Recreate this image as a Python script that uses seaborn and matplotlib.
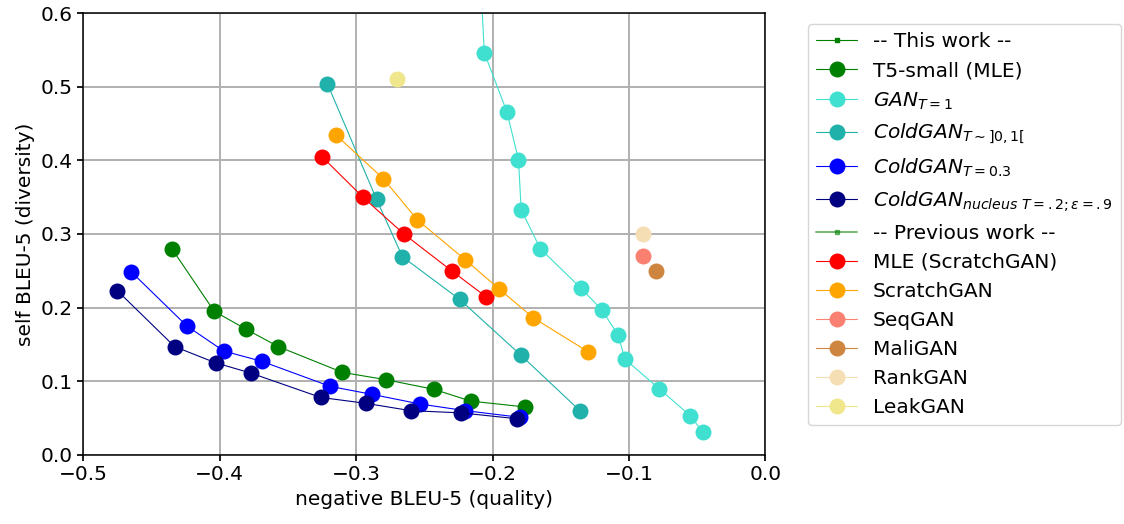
import matplotlib
matplotlib.use("Agg")
import matplotlib.pyplot as plt
import seaborn as sns

# ---- data ----
t5_x = [-0.435, -0.404, -0.381, -0.357, -0.310, -0.278, -0.243, -0.216, -0.176]
t5_y = [0.280, 0.195, 0.171, 0.147, 0.112, 0.102, 0.089, 0.073, 0.065]

gan_x = [-0.2095, -0.206, -0.1895, -0.181, -0.179, -0.165, -0.135, -0.120, -0.108, -0.103, -0.078, -0.055, -0.046]
gan_y = [0.670, 0.546, 0.466, 0.401, 0.333, 0.280, 0.226, 0.197, 0.163, 0.130, 0.090, 0.053, 0.031]

cold_rand_x = [-0.321, -0.285, -0.266, -0.224, -0.179, -0.136]
cold_rand_y = [0.504, 0.347, 0.269, 0.211, 0.135, 0.060]

cold03_x = [-0.465, -0.424, -0.397, -0.369, -0.319, -0.288, -0.253, -0.220, -0.180]
cold03_y = [0.249, 0.175, 0.141, 0.127, 0.093, 0.082, 0.069, 0.060, 0.051]

nucleus_x = [-0.475, -0.433, -0.403, -0.377, -0.326, -0.293, -0.260, -0.223, -0.182]
nucleus_y = [0.223, 0.147, 0.125, 0.111, 0.078, 0.070, 0.060, 0.057, 0.049]

mle_x = [-0.325, -0.295, -0.265, -0.230, -0.205]
mle_y = [0.405, 0.350, 0.300, 0.250, 0.215]

scratch_x = [-0.315, -0.280, -0.255, -0.220, -0.195, -0.170, -0.130]
scratch_y = [0.435, 0.375, 0.319, 0.265, 0.225, 0.186, 0.140]

seqgan_x, seqgan_y = [-0.090], [0.270]
maligan_x, maligan_y = [-0.080], [0.250]
rankgan_x, rankgan_y = [-0.090], [0.300]
leakgan_x, leakgan_y = [-0.270], [0.510]

x_ticks = [-0.5, -0.4, -0.3, -0.2, -0.1, 0.0]
y_ticks = [0.0, 0.1, 0.2, 0.3, 0.4, 0.5, 0.6]

# ---- style ----
sns.set_theme(style="ticks")
plt.rcParams.update({
    "font.family": ["DejaVu Sans"],
    "text.color": "black",
    "axes.labelcolor": "black",
    "axes.edgecolor": "black",
    "axes.linewidth": 1.1,
    "xtick.color": "black",
    "ytick.color": "black",
    "xtick.labelsize": 14.5,
    "ytick.labelsize": 14.5,
    "axes.labelsize": 14.5,
    "xtick.major.size": 4,
    "ytick.major.size": 4,
    "mathtext.fontset": "dejavusans",
})

fig, ax = plt.subplots(figsize=(11.24, 5.24), dpi=100)
fig.subplots_adjust(left=0.074, right=0.681, bottom=0.132, top=0.975)

ms = 11.5
lw = 0.8

ax.plot([], [], color="green", marker="s", markersize=2.5, linewidth=lw,
        label="-- This work --")

def series(x, y, color, label):
    sns.lineplot(x=x, y=y, sort=False, estimator=None, color=color,
                 marker="o", markersize=ms, markeredgewidth=0,
                 linewidth=lw, label=label, ax=ax)

series(t5_x, t5_y, "green", "T5-small (MLE)")
series(gan_x, gan_y, "turquoise", r"$GAN_{T=1}$")
series(cold_rand_x, cold_rand_y, "lightseagreen", r"$ColdGAN_{T\sim]0,1[}$")
series(cold03_x, cold03_y, "blue", r"$ColdGAN_{T=0.3}$")
series(nucleus_x, nucleus_y, "navy", r"$ColdGAN_{nucleus\ T=.2;\varepsilon=.9}$")

ax.plot([], [], color="green", marker="s", markersize=2.5, linewidth=lw + 0.6,
        alpha=0.55, label="-- Previous work --")

series(mle_x, mle_y, "red", "MLE (ScratchGAN)")
series(scratch_x, scratch_y, "orange", "ScratchGAN")
series(seqgan_x, seqgan_y, "salmon", "SeqGAN")
series(maligan_x, maligan_y, "peru", "MaliGAN")
series(rankgan_x, rankgan_y, "wheat", "RankGAN")
series(leakgan_x, leakgan_y, "khaki", "LeakGAN")

ax.set_xlim(-0.5, 0.0)
ax.set_ylim(0.0, 0.6)
ax.set_xticks(x_ticks)
ax.set_yticks(y_ticks)
ax.grid(True, color="#b0b0b0", linewidth=1.4)
ax.set_axisbelow(True)
ax.set_xlabel("negative BLEU-5 (quality)")
ax.set_ylabel("self BLEU-5 (diversity)")

leg = ax.legend(loc="upper left", bbox_to_anchor=(1.063, 0.975),
                borderaxespad=0, fontsize=14.5, labelspacing=0.5,
                frameon=True, fancybox=True, framealpha=0.8,
                edgecolor="#cccccc")

fig.savefig("out.png", dpi=100)
